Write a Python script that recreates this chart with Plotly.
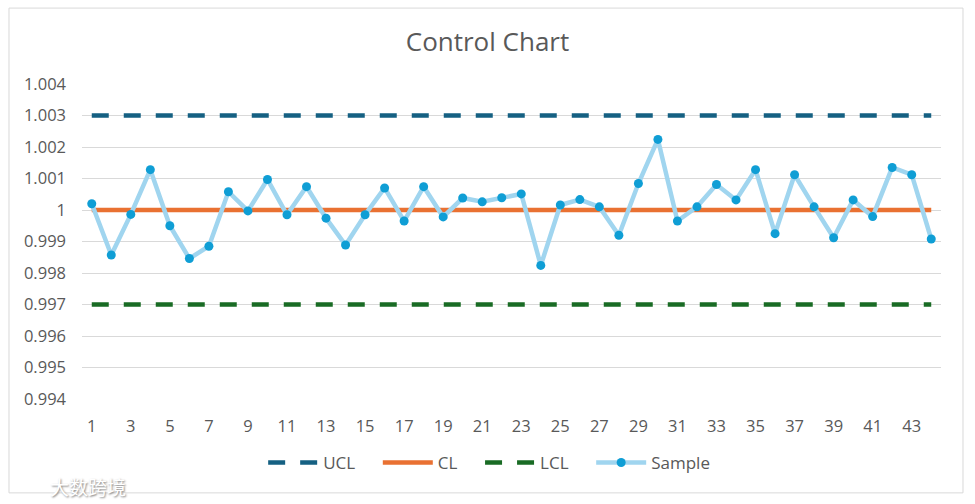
import plotly.graph_objects as go

samples = list(range(1, 45))
sample_values = [
    1.00020, 0.99857, 0.99986, 1.00128, 0.99950, 0.99846, 0.99885, 1.00058,
    0.99997, 1.00097, 0.99985, 1.00074, 0.99974, 0.99889, 0.99985, 1.00070,
    0.99965, 1.00074, 0.99978, 1.00038, 1.00026, 1.00039, 1.00051, 0.99824,
    1.00016, 1.00033, 1.00010, 0.99920, 1.00084, 1.00224, 0.99965, 1.00010,
    1.00081, 1.00032, 1.00128, 0.99925, 1.00112, 1.00010, 0.99912, 1.00032,
    0.99979, 1.00135, 1.00112, 0.99908,
]
ucl_values = [1.003] * 44
cl_values = [1.0] * 44
lcl_values = [0.997] * 44

x_tickvals = list(range(1, 44, 2))
y_tickvals = [0.994, 0.995, 0.996, 0.997, 0.998, 0.999, 1.0, 1.001, 1.002, 1.003, 1.004]
y_ticktext = ["0.994", "0.995", "0.996", "0.997", "0.998", "0.999", "1", "1.001", "1.002", "1.003", "1.004"]

FONT = "Open Sans"
GRAY = "#595959"
SP = "\u00a0" * 4

fig = go.Figure()
fig.add_trace(go.Scatter(x=samples, y=ucl_values, name="UCL" + SP, mode="lines",
                         line=dict(color="#156082", width=4.5, dash="17px,15px")))
fig.add_trace(go.Scatter(x=samples, y=cl_values, name="CL" + SP, mode="lines",
                         line=dict(color="#E97132", width=4.5)))
fig.add_trace(go.Scatter(x=samples, y=lcl_values, name="LCL" + SP, mode="lines",
                         line=dict(color="#196B24", width=4.5, dash="17px,15px")))
fig.add_trace(go.Scatter(x=samples, y=sample_values, name="Sample", mode="lines+markers",
                         line=dict(color="#A0D5EF", width=4.5),
                         marker=dict(color="#0F9ED5", size=9)))

fig.update_layout(
    width=975, height=504,
    margin=dict(l=82, r=34, t=84, b=105),
    paper_bgcolor="white", plot_bgcolor="white",
    font=dict(family=FONT, color=GRAY, size=16.5),
    title=dict(text="Control Chart", x=0.5, xanchor="center", y=0.917, yanchor="middle",
               font=dict(family=FONT, size=26, color=GRAY)),
    showlegend=True,
    legend=dict(orientation="h", x=0.474, xanchor="center", y=-0.203, yanchor="middle",
                font=dict(family=FONT, size=17, color=GRAY), itemwidth=50),
    xaxis=dict(range=[0.5, 44.5], tickmode="array", tickvals=x_tickvals,
               showgrid=False, zeroline=False, showline=False, ticks="",
               ticklabelstandoff=15, tickfont=dict(size=16.5, color=GRAY)),
    yaxis=dict(range=[0.994, 1.004], tickmode="array", tickvals=y_tickvals, ticktext=y_ticktext,
               showgrid=True, gridcolor="#D9D9D9", gridwidth=1, zeroline=False, showline=False,
               ticks="", ticklabelstandoff=15, tickfont=dict(size=16.5, color=GRAY)),
)

fig.add_shape(type="rect", xref="paper", yref="paper",
              x0=-0.085, x1=1.0256, y0=-0.298, y1=1.241,
              line=dict(color="#D9D9D9", width=1), fillcolor="rgba(0,0,0,0)", layer="below")

fig.add_annotation(text="大数跨境", xref="paper", yref="paper", x=0.007, y=-0.279,
                   xanchor="center", yanchor="middle", showarrow=False,
                   font=dict(family="Noto Sans CJK SC", size=19, color="white",
                             shadow="1px 1px 2px #808080"))

fig.write_html("out.html", config={"displayModeBar": False},
               post_script="document.body.style.margin='0';")
